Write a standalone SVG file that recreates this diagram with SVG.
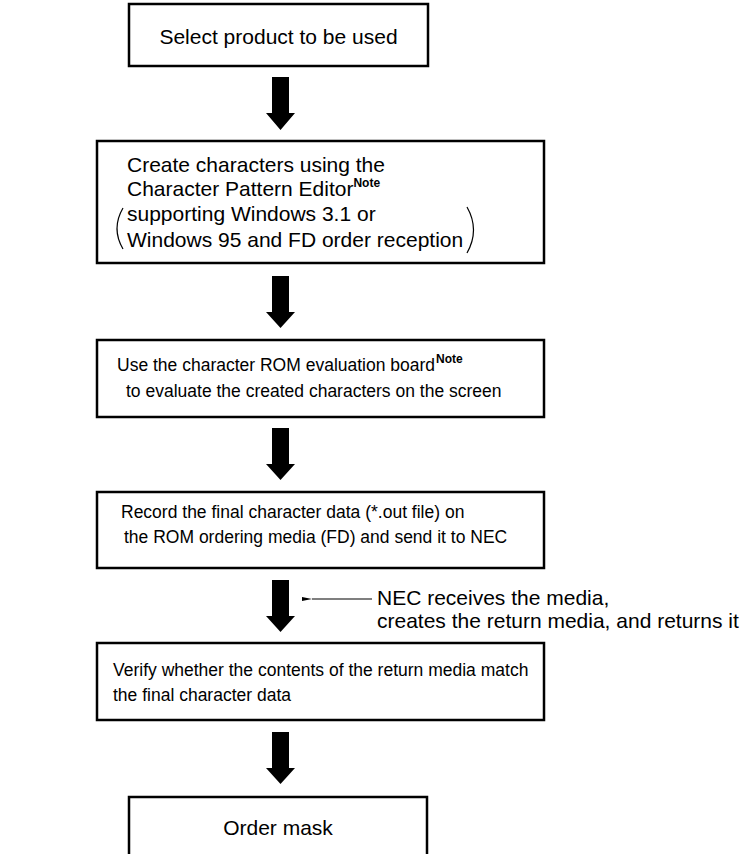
<svg xmlns="http://www.w3.org/2000/svg" width="749" height="854" viewBox="0 0 749 854">
<style>
.box{fill:#fff;stroke:#000;stroke-width:2.5}
.t{font-family:"Liberation Sans",Arial,sans-serif;font-size:21px;fill:#000}
.s{font-size:17.5px}
.c{text-anchor:middle}
.sup{font-family:"Liberation Sans",Arial,sans-serif;font-size:12px;font-weight:bold;fill:#000}
.paren{fill:none;stroke:#000;stroke-width:1.2}
.big{fill:#000}
.thin{stroke:#000;stroke-width:1.2;fill:none}
</style>
<defs>
<marker id="ah" markerWidth="10" markerHeight="6" refX="0" refY="3" orient="auto" markerUnits="userSpaceOnUse">
<path d="M0,3 L10,1 L10,5 Z" fill="#000"/>
</marker>
</defs>
<rect width="749" height="854" fill="#fff"/>
<g id="connectors">
<polygon class="big" points="272,77 289,77 289,113 295,113 280.5,130 266,113 272,113"/>
<polygon class="big" points="272,276 289,276 289,312 295,312 280.5,328 266,312 272,312"/>
<polygon class="big" points="272,428 289,428 289,464 295,464 280.5,480 266,464 272,464"/>
<polygon class="big" points="272,580 289,580 289,616 295,616 280.5,632 266,616 272,616"/>
<polygon class="big" points="272,732 289,732 289,768 295,768 280.5,784 266,768 272,768"/>
<line class="thin" x1="372" y1="599" x2="312" y2="599" marker-end="url(#ah)"/>
</g>
<g id="n1">
<rect class="box" x="129" y="4" width="299" height="62"/>
<text class="t c" x="278.5" y="44">Select product to be used</text>
</g>
<g id="n2">
<rect class="box" x="97" y="141" width="447" height="122"/>
<text class="t" x="127" y="172">Create characters using the</text>
<text class="t" x="127" y="196">Character Pattern Editor<tspan class="sup" dy="-9">Note</tspan></text>
<text class="t" x="127" y="221">supporting Windows 3.1 or</text>
<text class="t" x="127" y="247">Windows 95 and FD order reception</text>
<path class="paren" d="M123,208 Q111,228.5 123,249"/>
<path class="paren" d="M467,207 Q480,230 467,253"/>
</g>
<g id="n3">
<rect class="box" x="97" y="340" width="447" height="77"/>
<text class="t s" x="117" y="371">Use the character ROM evaluation board<tspan class="sup" dx="1" dy="-8">Note</tspan></text>
<text class="t s" x="126" y="397">to evaluate the created characters on the screen</text>
</g>
<g id="n4">
<rect class="box" x="97" y="492" width="447" height="76"/>
<text class="t s" x="121" y="518">Record the final character data (*.out file) on</text>
<text class="t s" x="124" y="543">the ROM ordering media (FD) and send it to NEC</text>
</g>
<g id="label">
<text class="t" x="377" y="605">NEC receives the media,</text>
<text class="t" x="377" y="628">creates the return media, and returns it</text>
</g>
<g id="n5">
<rect class="box" x="97" y="643" width="447" height="77"/>
<text class="t s" x="113" y="676">Verify whether the contents of the return media match</text>
<text class="t s" x="113" y="701">the final character data</text>
</g>
<g id="n6">
<rect class="box" x="129" y="797" width="298" height="70"/>
<text class="t c" x="278" y="835">Order mask</text>
</g>
</svg>
